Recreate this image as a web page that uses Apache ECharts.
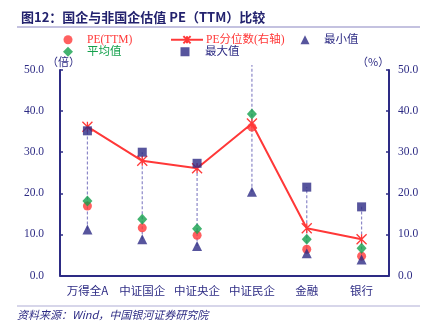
<!DOCTYPE html>
<html>
<head>
<meta charset="utf-8">
<script src="https://cdn.jsdelivr.net/npm/echarts@6/dist/echarts.min.js"></script>
<style>
  html, body { margin: 0; padding: 0; background: #ffffff; }
  #chart { width: 434px; height: 325px; }
</style>
</head>
<body>
<div id="chart"></div>
<script>
// Categories and PE values (times) / PE percentile (%)
const categories = ['万得全A', '中证国企', '中证央企', '中证民企', '金融', '银行'];
const peTTM = [16.9, 11.6, 9.8, 36.1, 6.4, 4.7];
const peAvg = [18.1, 13.7, 11.4, 39.3, 8.8, 6.6];
const peMin = [11.2, 8.8, 7.2, 20.4, 5.4, 3.9];
const peMax = [35.2, 30.0, 27.3, 51.2, 21.5, 16.7];
const pePct = [36.2, 27.9, 26.1, 37.0, 11.5, 8.8];
const yTicks = [0, 10, 20, 30, 40, 50];

const NAVY = '#2d2b84';
const RED = '#ff3838';
const GREEN = '#14a04c';
const DASH = '#8c88c8';
const SERIF = '"Liberation Serif", "Noto Sans CJK SC", serif';
const CJK = '"Noto Sans CJK SC", "Liberation Serif", sans-serif';

const crossSymbol = 'path://M0,0L10,10M10,0L0,10M5,0L5,10';

const chart = echarts.init(document.getElementById('chart'), null, { renderer: 'canvas' });

// One legend per entry so each sits in its own column; icon centred at cx, text at tx
function legendAt(name, cx, tx, top, iconW, iconH, icon, color) {
  const item = { name: name, textStyle: { color: color } };
  if (icon) item.icon = icon;
  const left = cx - iconW / 2;
  const pad = tx - (left + iconW + 5);
  return {
    left: left, top: top, itemWidth: iconW, itemHeight: iconH, itemGap: 0,
    padding: 0, selectedMode: false,
    textStyle: { fontFamily: SERIF, fontSize: 11.5, color: color, padding: [0, 0, 0, pad] },
    data: [item]
  };
}

const yAxisCommon = {
  type: 'value', min: yTicks[0], max: yTicks[yTicks.length - 1], interval: 10,
  axisLine: { show: true, lineStyle: { color: NAVY, width: 2 } },
  axisTick: { show: true, inside: true, length: 3, lineStyle: { color: NAVY, width: 1.5 } },
  splitLine: { show: false },
  axisLabel: { color: NAVY, fontFamily: SERIF, fontSize: 11.5, formatter: v => v.toFixed(1) }
};

chart.setOption({
  animation: false,
  backgroundColor: '#ffffff',
  title: {
    text: '图12：国企与非国企估值 PE（TTM）比较',
    left: 16, top: 6,
    textStyle: { fontFamily: CJK, fontSize: 13, fontWeight: 'bold', color: '#23226e' }
  },
  legend: [
    legendAt('PE(TTM)', 68, 87, 34, 9, 9, 'circle', RED),
    legendAt('PE分位数(右轴)', 186, 205, 34, 32, 9, null, RED),
    legendAt('最小值', 305, 324, 34, 9, 9, 'triangle', NAVY),
    legendAt('平均值', 68, 87, 46, 10, 10, 'diamond', GREEN),
    legendAt('最大值', 185, 205, 46, 9, 9, 'rect', NAVY)
  ],
  grid: { left: 60, right: 45, top: 70, bottom: 49.5 },
  xAxis: {
    type: 'category', data: categories, boundaryGap: true,
    axisLine: { show: true, lineStyle: { color: NAVY, width: 2 } },
    axisTick: { show: false },
    axisLabel: { color: NAVY, fontFamily: CJK, fontSize: 11.5, margin: 9, interval: 0 }
  },
  yAxis: [
    Object.assign({}, yAxisCommon, { position: 'left', axisLabel: Object.assign({}, yAxisCommon.axisLabel, { margin: 16 }) }),
    Object.assign({}, yAxisCommon, { position: 'right', axisLabel: Object.assign({}, yAxisCommon.axisLabel, { margin: 9 }) })
  ],
  graphic: [
    { type: 'line', shape: { x1: 17, y1: 27, x2: 420, y2: 27 }, style: { stroke: '#b0aed6', lineWidth: 1.5 } },
    { type: 'line', shape: { x1: 17, y1: 306, x2: 420, y2: 306 }, style: { stroke: '#b0aed6', lineWidth: 1.2 } },
    { type: 'text', left: 17, top: 309, style: { text: '资料来源：Wind，中国银河证券研究院', fill: NAVY, font: 'italic 11px ' + CJK } },
    { type: 'text', left: 47, top: 56, style: { text: '（倍）', fill: NAVY, font: '11px ' + CJK } },
    { type: 'text', left: 357, top: 56, style: { text: '（%）', fill: NAVY, font: '11px ' + CJK } }
  ],
  series: [
    {
      name: 'range', type: 'custom', clip: false, z: 1, silent: true,
      data: categories.map((c, i) => [i, peMin[i], peMax[i]]),
      renderItem: function (params, api) {
        const lo = api.coord([api.value(0), api.value(1)]);
        const hi = api.coord([api.value(0), api.value(2)]);
        return {
          type: 'line',
          shape: { x1: lo[0], y1: lo[1], x2: hi[0], y2: hi[1] },
          style: { stroke: DASH, lineWidth: 1.2, lineDash: [3, 2] }
        };
      }
    },
    {
      name: 'PE分位数(右轴)', type: 'line', yAxisIndex: 1, z: 2,
      data: pePct,
      symbol: crossSymbol, symbolSize: 10,
      lineStyle: { color: RED, width: 2 },
      itemStyle: { color: 'rgba(0,0,0,0)', borderColor: RED, borderWidth: 1.3 }
    },
    {
      name: 'PE(TTM)', type: 'scatter', z: 3, clip: true,
      data: peTTM, symbol: 'circle', symbolSize: 9,
      itemStyle: { color: RED }
    },
    {
      name: '平均值', type: 'scatter', z: 4, clip: true,
      data: peAvg, symbol: 'diamond', symbolSize: [10, 11],
      itemStyle: { color: GREEN }
    },
    {
      name: '最小值', type: 'scatter', z: 4, clip: true,
      data: peMin, symbol: 'triangle', symbolSize: 10,
      itemStyle: { color: NAVY }
    },
    {
      name: '最大值', type: 'scatter', z: 4, clip: true,
      data: peMax, symbol: 'rect', symbolSize: 9,
      itemStyle: { color: NAVY }
    }
  ]
});
</script>
</body>
</html>
